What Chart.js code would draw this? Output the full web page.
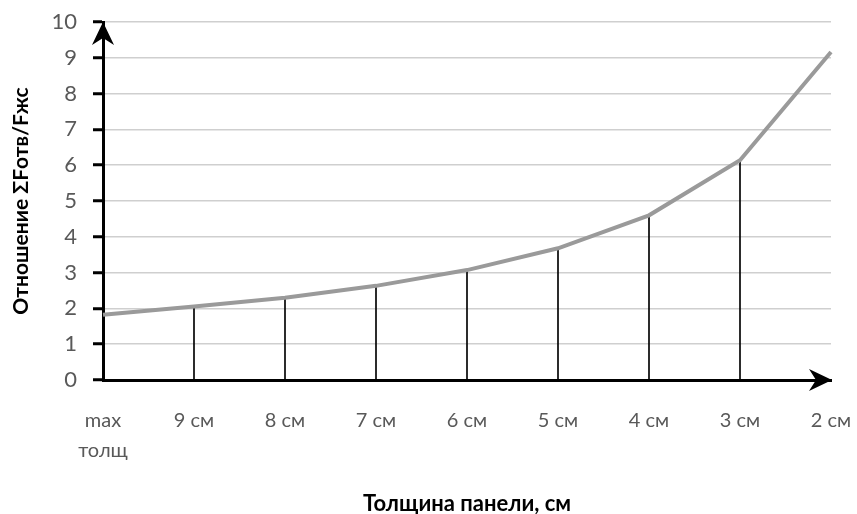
<!DOCTYPE html>
<html>
<head>
<meta charset="utf-8">
<script src="https://cdn.jsdelivr.net/npm/chart.js@4/dist/chart.umd.min.js"></script>
<style>
html,body{margin:0;padding:0;background:#fff;}
#wrap{width:857px;height:514px;position:relative;}
</style>
</head>
<body>
<div id="wrap"><canvas id="c" width="857" height="514"></canvas></div>
<script>
const categories = [["max","толщ"], "9 см", "8 см", "7 см", "6 см", "5 см", "4 см", "3 см", "2 см"];
const ratioValues = [1.82, 2.05, 2.30, 2.63, 3.07, 3.68, 4.60, 6.14, 9.16];
const dropValues = [null, 2.05, 2.30, 2.63, 3.07, 3.68, 4.60, 6.14, null];
const yTicks = [0,1,2,3,4,5,6,7,8,9,10];
const xTitle = "Толщина панели, см";
const yTitle = "Отношение ΣFотв/Fжс";

const FONT = "Lato, 'Open Sans', sans-serif";

const arrows = {
  id: 'arrows',
  afterDraw(chart) {
    const {ctx, scales:{x, y}} = chart;
    ctx.save();
    ctx.fillStyle = '#000';
    const ax = x.left, ay = y.top;
    ctx.beginPath();
    ctx.moveTo(ax, ay);
    ctx.lineTo(ax + 11, ay + 23);
    ctx.lineTo(ax, ay + 16);
    ctx.lineTo(ax - 11, ay + 23);
    ctx.closePath();
    ctx.fill();
    const bx = x.right + 1, by = y.bottom;
    ctx.beginPath();
    ctx.moveTo(bx, by);
    ctx.lineTo(bx - 23, by - 11);
    ctx.lineTo(bx - 16, by);
    ctx.lineTo(bx - 23, by + 11);
    ctx.closePath();
    ctx.fill();
    ctx.restore();
  }
};

new Chart(document.getElementById('c'), {
  data: {
    labels: categories,
    datasets: [
      {
        type: 'line',
        data: ratioValues,
        borderColor: '#9a9a9a',
        borderWidth: 4,
        pointRadius: 0,
        tension: 0,
        order: 0
      },
      {
        type: 'bar',
        data: dropValues,
        backgroundColor: '#000',
        barThickness: 1,
        order: 1
      }
    ]
  },
  options: {
    responsive: false,
    animation: false,
    layout: { padding: { top: 22, right: 26, left: 0, bottom: 0 } },
    plugins: { legend: { display: false }, tooltip: { enabled: false } },
    scales: {
      x: {
        type: 'category',
        offset: false,
        afterFit(s) { s.height = 134; s.paddingLeft = 0; s.paddingRight = 0; },
        grid: { display: false, offset: false, drawTicks: false },
        border: { display: true, color: '#000', width: 3 },
        ticks: { color: '#595959', font: { family: FONT, size: 20, lineHeight: 1.5 }, padding: 26, maxRotation: 0, autoSkip: false },
        title: { display: true, text: xTitle, color: '#000', font: { family: FONT, size: 22, weight: 'bold' }, padding: { top: 0, bottom: -3 } }
      },
      y: {
        min: 0, max: 10,
        afterBuildTicks(s) { s.ticks = yTicks.map(v => ({ value: v })); },
        afterFit(s) { s.width = 103; s.paddingTop = 0; s.paddingBottom = 0; },
        grid: { color: '#cfcfcf', lineWidth: 1.5, tickColor: '#000', tickLength: 10, tickWidth: 3 },
        border: { display: true, color: '#000', width: 3 },
        ticks: { color: '#595959', font: { family: FONT, size: 22 }, padding: 16 },
        title: { display: true, text: yTitle, color: '#000', font: { family: FONT, size: 21, weight: 'bold' }, padding: { top: 9, bottom: 0 } }
      }
    }
  },
  plugins: [arrows]
});
</script>
</body>
</html>
